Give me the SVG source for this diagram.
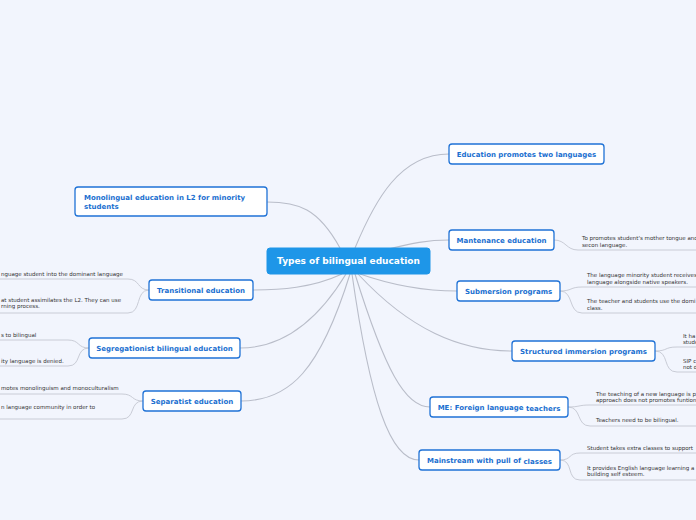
<svg xmlns="http://www.w3.org/2000/svg" width="696" height="520" viewBox="0 0 696 520">
<style>
.bg{fill:#f2f5fd}
.con{fill:none;stroke:#b9bdc9;stroke-width:1.1}
.leafl{fill:none;stroke:#c9ccd6;stroke-width:1}
.node rect{fill:#ffffff;stroke:#1f72d6;stroke-width:1.3}
.node text{font-family:"DejaVu Sans",Verdana,sans-serif;font-weight:bold;font-size:7px;fill:#1a6fd0}
.center rect{fill:#1e96e8;stroke:#1e96e8}
.center text{font-family:"DejaVu Sans",Verdana,sans-serif;font-weight:bold;font-size:9px;fill:#ffffff}
.leaf text{font-family:"DejaVu Sans",Verdana,sans-serif;font-size:5.5px;fill:#333333}
</style>
<rect class="bg" x="0" y="0" width="696" height="520"/>
<g id="connectors">
<path class="con" d="M355,248 C375,200 400,154 449,154"/>
<path class="con" d="M340,248 C318,208 298,202 267,202"/>
<path class="con" d="M385,250 C412,243 428,240 449,240"/>
<path class="con" d="M360,274 C400,288 430,291 457,291"/>
<path class="con" d="M358,274 C410,330 460,351 512,351"/>
<path class="con" d="M355,274 C385,370 405,407 430,407"/>
<path class="con" d="M352,274 C370,400 390,460 419,460"/>
<path class="con" d="M342,274 C312,288 280,290 253,290"/>
<path class="con" d="M346,274 C312,330 275,348 240,348"/>
<path class="con" d="M350,274 C320,370 290,401 241,401"/>
<path class="leafl" d="M554,240 C566,240 566,250 578,250 H696"/>
<path class="leafl" d="M560,291 C572,291 570,287 582,287 H696"/>
<path class="leafl" d="M560,291 C574,291 568,313 582,313 H696"/>
<path class="leafl" d="M655,351 C668,351 664,347 677,347 H696"/>
<path class="leafl" d="M655,351 C670,351 662,372 677,372 H696"/>
<path class="leafl" d="M568,407 C580,407 578,405 590,405 H696"/>
<path class="leafl" d="M568,407 C582,407 576,426 590,426 H696"/>
<path class="leafl" d="M560,460 C572,460 568,453 580,453 H696"/>
<path class="leafl" d="M560,460 C574,460 566,480 580,480 H696"/>
<path class="leafl" d="M149,290 C137,290 140,279 128,279 H0"/>
<path class="leafl" d="M149,290 C135,290 142,313 128,313 H0"/>
<path class="leafl" d="M89,348 C77,348 80,340 68,340 H0"/>
<path class="leafl" d="M89,348 C75,348 82,366 68,366 H0"/>
<path class="leafl" d="M143,401 C131,401 134,394 122,394 H0"/>
<path class="leafl" d="M143,401 C129,401 136,419 122,419 H0"/>
</g>
<g id="center" class="center">
<rect x="267" y="248" width="163" height="26" rx="3"/>
<text x="348.5" y="264" text-anchor="middle">Types of bilingual education</text>
</g>
<g id="n-education-promotes" class="node">
<rect x="449" y="144" width="155" height="20" rx="3"/>
<text x="526.5" y="157" text-anchor="middle">Education promotes two languages</text>
</g>
<g id="n-mantenance" class="node">
<rect x="449" y="230" width="105" height="20" rx="3"/>
<text x="501.5" y="243" text-anchor="middle">Mantenance education</text>
</g>
<g id="n-submersion" class="node">
<rect x="457" y="281" width="103" height="20" rx="3"/>
<text x="508.5" y="294" text-anchor="middle">Submersion programs</text>
</g>
<g id="n-structured" class="node">
<rect x="512" y="341" width="143" height="20" rx="3"/>
<text x="583.5" y="354" text-anchor="middle">Structured immersion programs</text>
</g>
<g id="n-me" class="node">
<rect x="430" y="397" width="138" height="20" rx="3"/>
<text x="499" y="409.5" text-anchor="middle">ME: Foreign language <tspan dy="1">teachers</tspan></text>
</g>
<g id="n-mainstream" class="node">
<rect x="419" y="450" width="141" height="20" rx="3"/>
<text x="489.5" y="462.5" text-anchor="middle">Mainstream with pull of <tspan dy="1">classes</tspan></text>
</g>
<g id="n-monolingual" class="node">
<rect x="75" y="187" width="192" height="29" rx="3"/>
<text x="84" y="200">Monolingual education in L2 for minority</text>
<text x="84" y="209">students</text>
</g>
<g id="n-transitional" class="node">
<rect x="149" y="280" width="104" height="20" rx="3"/>
<text x="201" y="293" text-anchor="middle">Transitional education</text>
</g>
<g id="n-segregationist" class="node">
<rect x="89" y="338" width="151" height="20" rx="3"/>
<text x="164.5" y="351" text-anchor="middle">Segregationist bilingual education</text>
</g>
<g id="n-separatist" class="node">
<rect x="143" y="391" width="98" height="20" rx="3"/>
<text x="192" y="404" text-anchor="middle">Separatist education</text>
</g>
<g id="leaves" class="leaf">
<text x="582" y="239.5">To promotes student's mother tongue and</text>
<text x="582" y="246.5">secon language.</text>
<text x="587" y="276.5">The language minority student receives</text>
<text x="587" y="283.5">language alongside native speakers.</text>
<text x="587" y="302.5">The teacher and students use the domi</text>
<text x="587" y="309.5">class.</text>
<text x="683" y="337.5">It ha</text>
<text x="683" y="343.5">stude</text>
<text x="683" y="362.5">SIP c</text>
<text x="683" y="368.5">not d</text>
<text x="596" y="395.5">The teaching of a new language is p</text>
<text x="596" y="401.5">approach does not promotes funtion</text>
<text x="596" y="421.5">Teachers need to be bilingual.</text>
<text x="587" y="449.5">Student takes extra classes to support</text>
<text x="587" y="469.5">It provides English language learning a</text>
<text x="587" y="476">building self esteem.</text>
<text x="1" y="275.5">nguage student into the dominant language</text>
<text x="1" y="301.5">at student assimilates the L2. They can use</text>
<text x="1" y="308">rning process.</text>
<text x="1" y="337">s to bilingual</text>
<text x="1" y="363">ity language is denied.</text>
<text x="1" y="390">motes monolinguism and monoculturalism</text>
<text x="1" y="409">n language community in order to</text>
</g>
</svg>
